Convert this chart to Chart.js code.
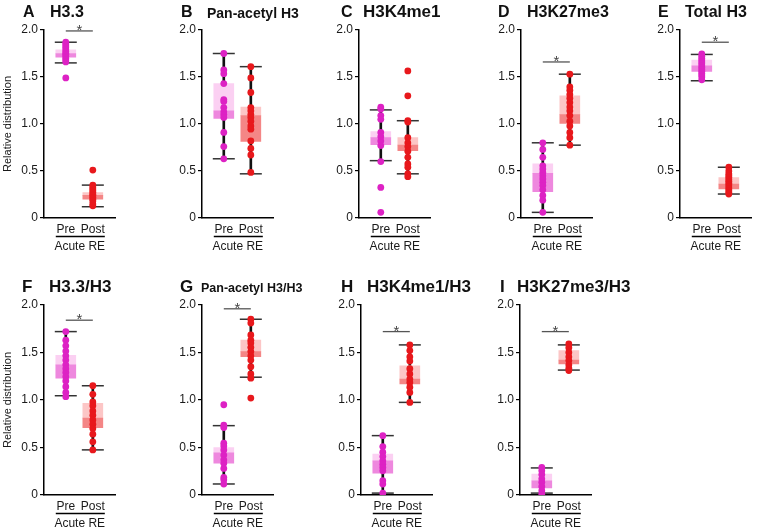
<!DOCTYPE html>
<html><head><meta charset="utf-8">
<script src="https://cdn.jsdelivr.net/npm/chart.js@4.4.1/dist/chart.umd.min.js"></script>
<style>
html,body{margin:0;padding:0;background:#fff;width:763px;height:532px;overflow:hidden;position:relative;font-family:Arial,"Liberation Sans",sans-serif;}
canvas{position:absolute;}
.t{position:absolute;font-weight:bold;color:#111;white-space:nowrap;line-height:1;}
</style></head><body>
<script>
// ---------- data ----------
const groups = ['Pre', 'Post'];
const yTickValues = [0, 0.5, 1.0, 1.5, 2.0];
const yAxisTitle = 'Relative distribution';
const xAxisTitle = 'Acute RE';
const panelLetters = ['A','B','C','D','E','F','G','H','I'];
const panelNames = ['H3.3','Pan-acetyl H3','H3K4me1','H3K27me3','Total H3','H3.3/H3','Pan-acetyl H3/H3','H3K4me1/H3','H3K27me3/H3'];

// box = [q1, median, q3], caps = [low whisker, high whisker]
const aPre = [1.87,1.85,1.83,1.81,1.79,1.77,1.75,1.74,1.72,1.70,1.68,1.66,1.49];
const aPost = [0.51,0.35,0.33,0.31,0.29,0.27,0.25,0.24,0.22,0.20,0.18,0.15,0.13];
const aBoxPre = [1.71,1.75,1.79], aBoxPost = [0.20,0.24,0.27];
const aCapsPre = [1.65,1.87], aCapsPost = [0.12,0.35];
const aSig = 1.99;

const bPre = [1.75,1.575,1.535,1.43,1.26,1.24,1.175,1.13,1.10,1.07,0.91,0.76,0.63];
const bPost = [1.61,1.49,1.335,1.175,1.14,1.10,1.07,1.03,0.98,0.945,0.82,0.74,0.67,0.485];
const bBoxPre = [1.06,1.14,1.43], bBoxPost = [0.815,1.09,1.18];
const bCapsPre = [0.63,1.75], bCapsPost = [0.47,1.61];
const bSig = null;

const cPre = [1.18,1.16,1.09,1.05,0.91,0.865,0.82,0.77,0.60,0.325,0.06];
const cPost = [1.565,1.30,1.035,1.02,0.855,0.80,0.76,0.71,0.645,0.575,0.54,0.47,0.44];
const cBoxPre = [0.78,0.855,0.92], cBoxPost = [0.715,0.775,0.855];
const cCapsPre = [0.61,1.15], cCapsPost = [0.47,1.035];
const cSig = null;

const dPre = [0.80,0.73,0.645,0.555,0.52,0.485,0.45,0.415,0.38,0.345,0.30,0.24,0.19,0.06];
const dPost = [1.53,1.395,1.36,1.315,1.275,1.23,1.18,1.14,1.09,1.03,0.98,0.91,0.855,0.775];
const dBoxPre = [0.28,0.475,0.575], dBoxPost = [1.005,1.10,1.30];
const dCapsPre = [0.06,0.80], dCapsPost = [0.775,1.53];
const dSig = 1.66;

const ePre = [1.745,1.72,1.70,1.68,1.66,1.64,1.62,1.60,1.58,1.56,1.54,1.52,1.50,1.47];
const ePost = [0.54,0.50,0.47,0.45,0.43,0.41,0.39,0.37,0.35,0.33,0.31,0.29,0.27,0.255];
const eBoxPre = [1.56,1.62,1.68], eBoxPost = [0.31,0.36,0.43];
const eCapsPre = [1.46,1.74], eCapsPost = [0.255,0.54];
const eSig = 1.87;

const fPre = [1.72,1.63,1.57,1.515,1.465,1.42,1.37,1.33,1.29,1.245,1.20,1.14,1.08,1.035];
const fPost = [1.15,1.06,0.98,0.94,0.885,0.84,0.79,0.745,0.70,0.64,0.56,0.475];
const fBoxPre = [1.23,1.37,1.47], fBoxPost = [0.71,0.81,0.965];
const fCapsPre = [1.045,1.72], fCapsPost = [0.475,1.15];
const fSig = 1.84;

const gPre = [0.95,0.735,0.71,0.545,0.515,0.475,0.42,0.37,0.335,0.28,0.185,0.16,0.115];
const gPost = [1.85,1.81,1.685,1.63,1.60,1.555,1.51,1.465,1.42,1.35,1.275,1.23,1.02];
const gBoxPre = [0.335,0.445,0.50], gBoxPost = [1.455,1.51,1.63];
const gCapsPre = [0.116,0.73], gCapsPost = [1.24,1.85];
const gSig = 1.96;

const hPre = [0.625,0.51,0.45,0.405,0.36,0.325,0.29,0.255,0.15,0.115,0.02];
const hPost = [1.58,1.52,1.455,1.41,1.33,1.275,1.22,1.185,1.135,1.08,0.975];
const hBoxPre = [0.23,0.36,0.43], hBoxPost = [1.17,1.22,1.36];
const hCapsPre = [0.02,0.625], hCapsPost = [0.975,1.58];
const hSig = 1.72;

const iPre = [0.29,0.255,0.215,0.17,0.135,0.09,0.045,0.01];
const iPost = [1.59,1.55,1.50,1.455,1.415,1.37,1.335,1.31];
const iBoxPre = [0.075,0.15,0.22], iBoxPost = [1.38,1.42,1.52];
const iCapsPre = [0.02,0.285], iCapsPost = [1.315,1.58];
const iSig = 1.72;

// ---------- styles / layout ----------
const preDot = '#dd22c4', postDot = '#e8181c';
const preDark = '#ee88de', preLight = '#fbd0f2';
const postDark = '#f48686', postLight = '#fcc6c6';

const panels = [
  {pre:aPre, post:aPost, boxPre:aBoxPre, boxPost:aBoxPost, capsPre:aCapsPre, capsPost:aCapsPost, sig:aSig},
  {pre:bPre, post:bPost, boxPre:bBoxPre, boxPost:bBoxPost, capsPre:bCapsPre, capsPost:bCapsPost, sig:bSig},
  {pre:cPre, post:cPost, boxPre:cBoxPre, boxPost:cBoxPost, capsPre:cCapsPre, capsPost:cCapsPost, sig:cSig},
  {pre:dPre, post:dPost, boxPre:dBoxPre, boxPost:dBoxPost, capsPre:dCapsPre, capsPost:dCapsPost, sig:dSig},
  {pre:ePre, post:ePost, boxPre:eBoxPre, boxPost:eBoxPost, capsPre:eCapsPre, capsPost:eCapsPost, sig:eSig},
  {pre:fPre, post:fPost, boxPre:fBoxPre, boxPost:fBoxPost, capsPre:fCapsPre, capsPost:fCapsPost, sig:fSig},
  {pre:gPre, post:gPost, boxPre:gBoxPre, boxPost:gBoxPost, capsPre:gCapsPre, capsPost:gCapsPost, sig:gSig},
  {pre:hPre, post:hPost, boxPre:hBoxPre, boxPost:hBoxPost, capsPre:hCapsPre, capsPost:hCapsPost, sig:hSig},
  {pre:iPre, post:iPost, boxPre:iBoxPre, boxPost:iBoxPost, capsPre:iCapsPre, capsPost:iCapsPost, sig:iSig}
];

const rows = [{top:0, padTop:30, h:258}, {top:265, padTop:40, h:270}];
const layout = [
  {axisX:44,  row:0, yW:44, lx:23,  nx:50,  lfs:16, nfs:16},
  {axisX:202, row:0, yW:32, lx:181, nx:207, lfs:16, nfs:14},
  {axisX:359, row:0, yW:32, lx:341, nx:363, lfs:16, nfs:17},
  {axisX:521, row:0, yW:32, lx:498, nx:527, lfs:16, nfs:16},
  {axisX:680, row:0, yW:32, lx:658, nx:685, lfs:16, nfs:16},
  {axisX:44,  row:1, yW:44, lx:22,  nx:49,  lfs:17, nfs:17},
  {axisX:202, row:1, yW:32, lx:180, nx:201, lfs:17, nfs:12.5},
  {axisX:361, row:1, yW:32, lx:341, nx:367, lfs:17, nfs:17},
  {axisX:520, row:1, yW:32, lx:500, nx:517, lfs:17, nfs:17}
];
const titleCenters = [12, 286];
const X_MIN = -0.806, X_MAX = 1.839, AREA_W = 82;

Chart.defaults.font.family = 'Arial, "Liberation Sans", sans-serif';
Chart.defaults.font.size = 12;
Chart.defaults.color = '#1a1a1a';

const extras = {
  id: 'extras',
  afterDraw(chart, args, opts) {
    const ctx = chart.ctx, xs = chart.scales.x, ys = chart.scales.y, a = chart.chartArea;
    const x0 = xs.getPixelForValue(0), x1 = xs.getPixelForValue(1);
    ctx.save();
    ctx.strokeStyle = '#000'; ctx.lineWidth = 1.5;
    ctx.beginPath(); ctx.moveTo(x0 - 10, a.bottom + 18.5); ctx.lineTo(x1 + 12, a.bottom + 18.5); ctx.stroke();
    if (opts.sig != null) {
      const yp = ys.getPixelForValue(opts.sig);
      ctx.fillStyle = '#444'; ctx.font = '15px Arial, "Liberation Sans", sans-serif';
      ctx.textAlign = 'center'; ctx.textBaseline = 'alphabetic';
      ctx.fillText('*', (x0 + x1) / 2, yp + 4);
    }
    ctx.restore();
  }
};

panels.forEach((p, i) => {
  const L = layout[i], R = rows[L.row];
  const w = L.yW + AREA_W + 2;
  const cv = document.createElement('canvas');
  cv.width = w; cv.height = R.h;
  cv.style.width = w + 'px'; cv.style.height = R.h + 'px';
  cv.style.left = (L.axisX - L.yW) + 'px'; cv.style.top = R.top + 'px';
  document.body.appendChild(cv);

  // titles
  const tc = titleCenters[L.row];
  const lt = tc - 0.488 * L.lfs;
  const baseline = lt + 0.8465 * L.lfs;
  const d1 = document.createElement('div'); d1.className = 't';
  d1.style.left = L.lx + 'px'; d1.style.top = lt + 'px'; d1.style.fontSize = L.lfs + 'px';
  d1.textContent = panelLetters[i]; document.body.appendChild(d1);
  const d2 = document.createElement('div'); d2.className = 't';
  d2.style.left = L.nx + 'px'; d2.style.top = (baseline - 0.8465 * L.nfs) + 'px'; d2.style.fontSize = L.nfs + 'px';
  d2.textContent = panelNames[i]; document.body.appendChild(d2);

  const datasets = [
    {type:'line', data:p.pre.map(v => ({x:0, y:v})), showLine:false, pointRadius:3.4, pointBackgroundColor:preDot, pointBorderWidth:0, order:0},
    {type:'line', data:p.post.map(v => ({x:1, y:v})), showLine:false, pointRadius:3.4, pointBackgroundColor:postDot, pointBorderWidth:0, order:0},
    {type:'line', data:[{x:0,y:p.capsPre[0]},{x:0,y:p.capsPre[1]},{x:1,y:p.capsPost[0]},{x:1,y:p.capsPost[1]}],
      showLine:false, pointStyle:'line', pointRadius:11, pointBorderColor:'#333', pointBorderWidth:1.5, order:1, clip:false},
    {type:'bar', data:[{x:0,y:[p.boxPre[0],p.boxPre[1]]},{x:1,y:[p.boxPost[0],p.boxPost[1]]}],
      backgroundColor:[preDark, postDark], borderWidth:0, barThickness:20, grouped:false, order:2},
    {type:'bar', data:[{x:0,y:[p.boxPre[1],p.boxPre[2]]},{x:1,y:[p.boxPost[1],p.boxPost[2]]}],
      backgroundColor:[preLight, postLight], borderWidth:0, barThickness:20, grouped:false, order:2},
    {type:'bar', data:[{x:0,y:p.capsPre},{x:1,y:p.capsPost}],
      backgroundColor:'#111', borderWidth:0, barThickness:2, grouped:false, order:3}
  ];
  if (p.sig != null) {
    datasets.push({type:'line', data:[{x:0,y:p.sig},{x:1,y:p.sig}], borderColor:'#555', borderWidth:1.3, pointRadius:0, clip:false, order:0});
  }

  new Chart(cv, {
    type:'bar',
    data:{datasets},
    plugins:[extras],
    options:{
      responsive:false, animation:false, devicePixelRatio:1,
      layout:{padding:{top:R.padTop, right:2, left:0, bottom:0}},
      plugins:{legend:{display:false}, tooltip:{enabled:false}, title:{display:false}, extras:{sig:p.sig}},
      scales:{
        x:{type:'linear', min:X_MIN, max:X_MAX, offset:false,
          afterBuildTicks(s){ s.ticks = [{value:0},{value:1}]; },
          afterFit(s){ s.height = 40; },
          ticks:{autoSkip:false, padding:4, callback:(v) => groups[v] ?? '', font:{size:12}, color:'#1a1a1a', maxRotation:0},
          grid:{display:false, drawTicks:false, offset:false},
          border:{display:true, color:'#000', width:1.5},
          title:{display:true, text:xAxisTitle, font:{size:12}, color:'#1a1a1a', padding:{top:0, bottom:4}}
        },
        y:{type:'linear', min:0, max:2,
          afterBuildTicks(s){ s.ticks = yTickValues.map(v => ({value:v})); },
          afterFit(s){ s.width = L.yW; },
          ticks:{padding:2, callback:(v) => v === 0 ? '0' : v.toFixed(1), font:{size:12}, color:'#1a1a1a'},
          grid:{drawOnChartArea:false, drawTicks:true, tickLength:4, color:'#000', lineWidth:1.2},
          border:{display:true, color:'#000', width:1.5},
          title:{display:(L.yW > 40), text:yAxisTitle, font:{size:11}, color:'#1a1a1a', padding:{top:1, bottom:0}}
        }
      }
    }
  });
});
</script>
</body></html>
